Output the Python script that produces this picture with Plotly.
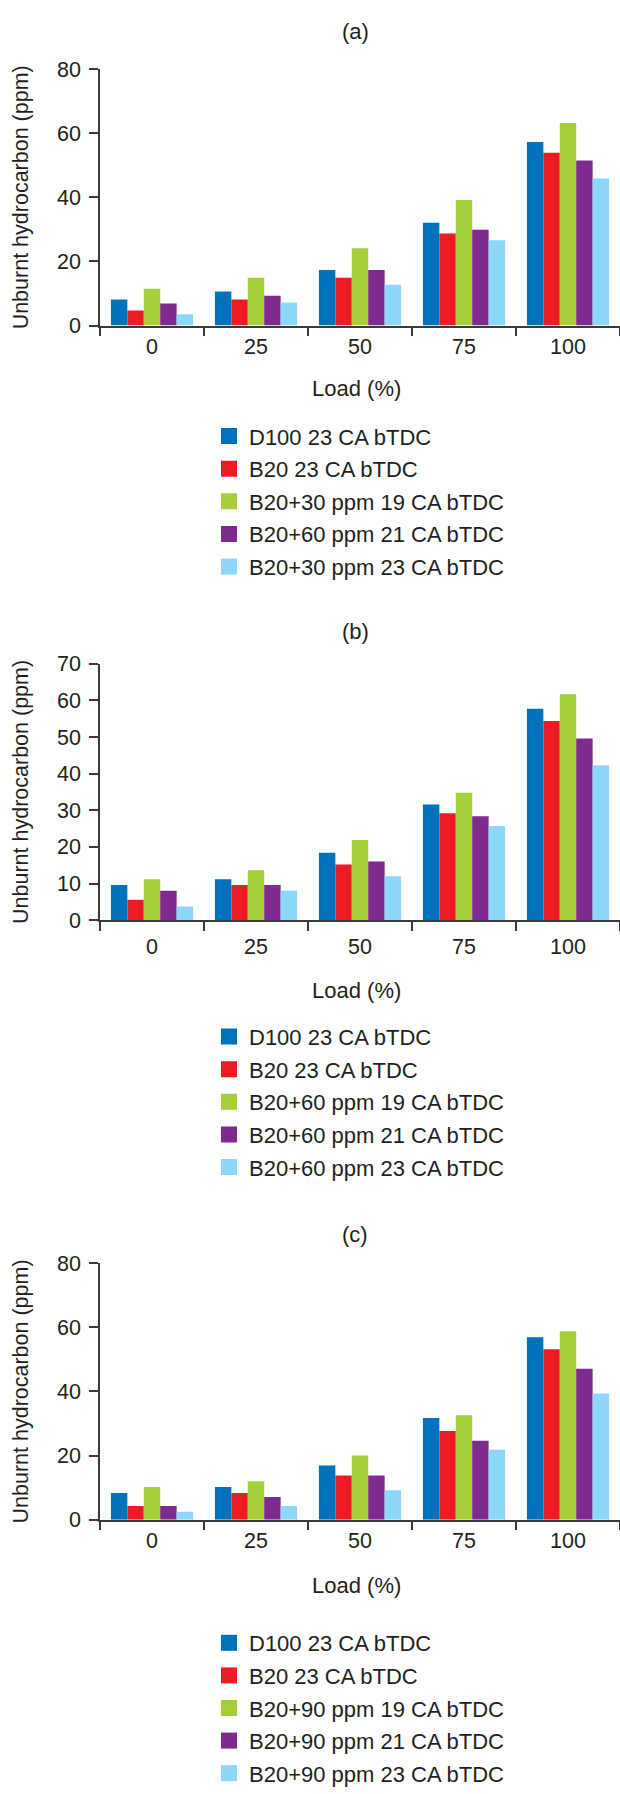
import plotly.graph_objects as go

W, H = 620, 1794

loads = ["0", "25", "50", "75", "100"]
panel_titles = ["(a)", "(b)", "(c)"]
y_title = "Unburnt hydrocarbon (ppm)"
x_title = "Load (%)"

# Panel (a)
names_a = ["D100 23 CA bTDC", "B20 23 CA bTDC", "B20+30 ppm 19 CA bTDC",
           "B20+60 ppm 21 CA bTDC", "B20+30 ppm 23 CA bTDC"]
d100_a = [8.1, 10.6, 17.3, 32.1, 57.3]
b20_a = [4.7, 8.1, 14.9, 28.7, 53.9]
s19_a = [11.5, 14.9, 24.1, 39.2, 63.2]
s21_a = [6.9, 9.3, 17.3, 29.9, 51.5]
s23_a = [3.5, 7.2, 12.7, 26.6, 45.9]

# Panel (b)
names_b = ["D100 23 CA bTDC", "B20 23 CA bTDC", "B20+60 ppm 19 CA bTDC",
           "B20+60 ppm 21 CA bTDC", "B20+60 ppm 23 CA bTDC"]
d100_b = [9.6, 11.2, 18.4, 31.6, 57.7]
b20_b = [5.6, 9.6, 15.2, 29.2, 54.4]
s19_b = [11.2, 13.6, 21.9, 34.8, 61.7]
s21_b = [8.0, 9.6, 16.0, 28.4, 49.6]
s23_b = [3.7, 8.0, 12.0, 25.7, 42.3]

# Panel (c)
names_c = ["D100 23 CA bTDC", "B20 23 CA bTDC", "B20+90 ppm 19 CA bTDC",
           "B20+90 ppm 21 CA bTDC", "B20+90 ppm 23 CA bTDC"]
d100_c = [8.3, 10.2, 16.9, 31.7, 56.9]
b20_c = [4.3, 8.3, 13.8, 27.7, 53.2]
s19_c = [10.2, 12.0, 20.0, 32.6, 58.8]
s21_c = [4.3, 7.1, 13.8, 24.6, 47.1]
s23_c = [2.5, 4.3, 9.2, 21.8, 39.4]

y_max = [80, 70, 80]
y_dtick = [20, 10, 20]

colors = ["#0071bb", "#ed1c24", "#a6ce39", "#7f2a8d", "#8dd8f8"]
TXT = "#231f20"
AX = "#3a3a3a"
FONT = "Liberation Sans, Arial, Helvetica, sans-serif"

panels = [
    (names_a, [d100_a, b20_a, s19_a, s21_a, s23_a]),
    (names_b, [d100_b, b20_b, s19_b, s21_b, s23_b]),
    (names_c, [d100_c, b20_c, s19_c, s21_c, s23_c]),
]

# pixel layout (top-down)
plot_top = [59, 662, 1270]
plot_h = 260
title_y = [20.7, 629, 1240.7]
xlab_y = [382.7, 993, 1596.7]
tick_standoff = [1, 6, 1]
legend_top = [410, 1019, 1634]
x_left = 100

def py(px):
    return 1 - px / H

fig = go.Figure()
layout = dict(
    width=W, height=H, autosize=False,
    margin=dict(l=0, r=0, t=0, b=0),
    paper_bgcolor="white", plot_bgcolor="white",
    barmode="group", bargap=0.21, bargroupgap=0,
    font=dict(family=FONT, size=21, color=TXT),
    showlegend=True,
)
annotations = []

for i, (names, series) in enumerate(panels):
    k = "" if i == 0 else str(i + 1)
    xa, ya = "x" + k, "y" + k
    lg = "legend" + k
    for j, (nm, vals) in enumerate(zip(names, series)):
        fig.add_trace(go.Bar(
            x=loads, y=vals, name=nm, xaxis=xa, yaxis=ya,
            marker=dict(color=colors[j], line=dict(width=0)),
            showlegend=False, legend=lg,
        ))
    for j, nm in enumerate(names):
        fig.add_trace(go.Scatter(
            x=[None], y=[None], name=nm, xaxis=xa, yaxis=ya, mode="markers",
            marker=dict(symbol="square", size=16, color=colors[j]),
            showlegend=True, legend=lg, legendgroup=f"g{i}_{j}",
        ))
    top = plot_top[i]
    bot = top + plot_h
    layout["xaxis" + k] = dict(
        domain=[x_left / W, 1.0], anchor=ya, type="category",
        categoryorder="array", categoryarray=loads,
        range=[-0.5, 4.5],
        showline=True, linecolor=AX, linewidth=1.5,
        ticks="outside", tickson="boundaries", ticklen=9, tickwidth=1.5, tickcolor=AX,
        ticklabelstandoff=tick_standoff[i],
        showgrid=False, zeroline=False,
        tickfont=dict(size=21.5, color=TXT, family=FONT),
        fixedrange=True,
    )
    layout["yaxis" + k] = dict(
        domain=[py(bot), py(top)], anchor=xa,
        range=[0, y_max[i]], dtick=y_dtick[i], tick0=0,
        showline=True, linecolor=AX, linewidth=1.5,
        ticks="outside", ticklen=9, tickwidth=1.5, tickcolor=AX,
        ticklabelstandoff=4,
        showgrid=False, zeroline=False,
        tickfont=dict(size=21.5, color=TXT, family=FONT),
        fixedrange=True,
    )
    layout[lg] = dict(
        x=209 / W, xanchor="left", y=py(legend_top[i]), yanchor="top",
        bgcolor="rgba(0,0,0,0)", borderwidth=0,
        font=dict(size=22, color=TXT, family=FONT),
        traceorder="grouped", tracegroupgap=1, itemsizing="trace",
    )
    annotations.append(dict(
        text=panel_titles[i], xref="paper", yref="paper",
        x=355 / W, y=py(title_y[i]), xanchor="center", yanchor="middle",
        showarrow=False, font=dict(size=22, color=TXT, family=FONT),
    ))
    annotations.append(dict(
        text=x_title, xref="paper", yref="paper",
        x=356 / W, y=py(xlab_y[i]), xanchor="center", yanchor="middle",
        showarrow=False, font=dict(size=22, color=TXT, family=FONT),
    ))
    annotations.append(dict(
        text=y_title, xref="paper", yref="paper",
        x=21 / W, y=py((top + bot) / 2), xanchor="center", yanchor="middle",
        textangle=-90, showarrow=False, font=dict(size=21.5, color=TXT, family=FONT),
    ))

layout["annotations"] = annotations
fig.update_layout(**layout)
fig.write_html("out.html")
